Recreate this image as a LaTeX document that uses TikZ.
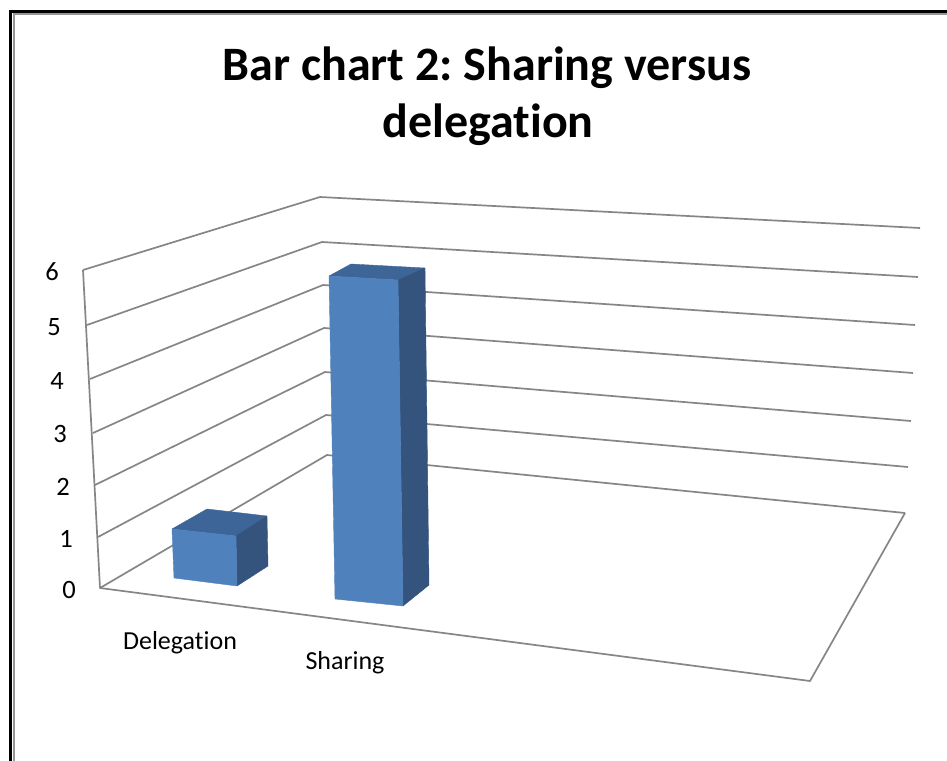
\documentclass[tikz,border=0pt]{standalone}
\usepackage{fontspec}
\setmainfont{Carlito}[Ligatures={NoCommon}]
\frenchspacing
\definecolor{gridgray}{RGB}{134,134,134}
\definecolor{framegray}{RGB}{150,150,150}
\definecolor{barfront}{RGB}{79,129,189}
\definecolor{bartop}{RGB}{62,101,152}
\definecolor{barside}{RGB}{52,84,126}
\begin{document}
\begin{tikzpicture}[x=1pt,y=-1pt,
  grid/.style={draw=gridgray, line width=1.7pt, line join=round},
  frontface/.style={fill=barfront, draw=barfront, line width=0.4pt, line join=round},
  topface/.style={fill=bartop, draw=bartop, line width=0.4pt, line join=round},
  sideface/.style={fill=barside, draw=barside, line width=0.4pt, line join=round},
  ticklabel/.style={font=\fontsize{26.5}{31}\selectfont, inner sep=0pt, anchor=center},
  catlabel/.style={font=\fontsize{26}{31}\selectfont, inner sep=0pt, anchor=base},
  titlestyle/.style={font=\fontsize{48}{58}\selectfont\bfseries, inner sep=0pt, anchor=base}]
\useasboundingbox (0,0) rectangle (947,760);
\fill[white] (0,0) rectangle (947,760);
% frame
\draw[black, line width=3pt] (10.5,780) -- (10.5,12) -- (967,12);
\draw[framegray, line width=1.6pt] (14,780) -- (14,14.3) -- (967,14.3);
% grid coordinates
\foreach \k/\fx/\fy/\bx/\by/\rx/\ry in {
  0/100/588/327/455/905/513,
  1/98/537/326/415/908/467,
  2/95/485/325/372/911/421,
  3/93/433/324/328/913/373,
  4/90/379/323/285/915/325,
  5/87/325/322/242/918/277,
  6/83/270/320/197/920/228}{
  \coordinate (F\k) at (\fx,\fy);
  \coordinate (B\k) at (\bx,\by);
  \coordinate (R\k) at (\rx,\ry);
}
\coordinate (Fr) at (810,681);
% grid lines
\foreach \k in {0,...,6}{
  \draw[grid] (F\k) -- (B\k) -- (R\k);
}
\draw[grid] (F6) -- (F0) -- (Fr) -- (R0);
% Delegation bar
\coordinate (d1) at (172,529);
\coordinate (d2) at (236,536);
\coordinate (d3) at (237,586);
\coordinate (d4) at (174,578);
\coordinate (d5) at (207,509);
\coordinate (d6) at (267,516);
\coordinate (d7) at (268,566);
\path[topface] (d1) -- (d5) -- (d6) -- (d2) -- cycle;
\path[sideface] (d2) -- (d6) -- (d7) -- (d3) -- cycle;
\path[frontface] (d1) -- (d2) -- (d3) -- (d4) -- cycle;
% Sharing bar
\coordinate (s1) at (329,276);
\coordinate (s2) at (398,280);
\coordinate (s3) at (403,606);
\coordinate (s4) at (335,599);
\coordinate (s5) at (351,264);
\coordinate (s6) at (425,268);
\coordinate (s7) at (429,585);
\path[topface] (s1) -- (s5) -- (s6) -- (s2) -- cycle;
\path[sideface] (s2) -- (s6) -- (s7) -- (s3) -- cycle;
\path[frontface] (s1) -- (s2) -- (s3) -- (s4) -- cycle;
% axis labels
\node[ticklabel] (t6) at (52,272) {6};
\node[ticklabel] (t5) at (54,327) {5};
\node[ticklabel] (t4) at (57,381) {4};
\node[ticklabel] (t3) at (60,434) {3};
\node[ticklabel] (t2) at (63,487) {2};
\node[ticklabel] (t1) at (66,539) {1};
\node[ticklabel] (t0) at (69,590) {0};
% category labels
\node[catlabel] (cdel) at (180,649) {Delegation};
\node[catlabel] (cshr) at (345,669) {Sharing};
% title
\node[titlestyle] (title1) at (487,80) {Bar chart 2: Sharing versus};
\node[titlestyle] (title2) at (488,137) {delegation};
\end{tikzpicture}
\end{document}
